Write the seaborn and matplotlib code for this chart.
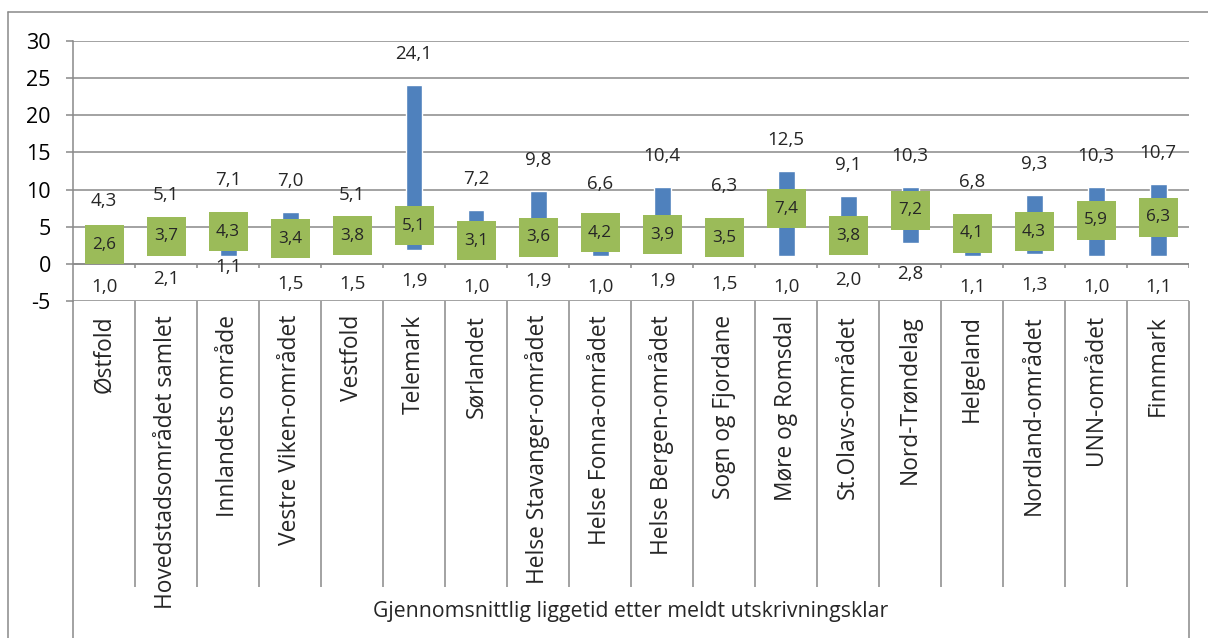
import matplotlib
matplotlib.use("Agg")
import matplotlib.pyplot as plt
from matplotlib.lines import Line2D
import matplotlib.transforms as mtransforms
import numpy as np
import pandas as pd
import seaborn as sns

# Regions and waiting time (days) after the patient is reported ready for discharge
regions = [
    "Østfold", "Hovedstadsområdet samlet", "Innlandets område", "Vestre Viken-området",
    "Vestfold", "Telemark", "Sørlandet", "Helse Stavanger-området", "Helse Fonna-området",
    "Helse Bergen-området", "Sogn og Fjordane", "Møre og Romsdal", "St.Olavs-området",
    "Nord-Trøndelag", "Helgeland", "Nordland-området", "UNN-området", "Finnmark",
]
max_days = [4.3, 5.1, 7.1, 7.0, 5.1, 24.1, 7.2, 9.8, 6.6, 10.4, 6.3, 12.5, 9.1, 10.3, 6.8, 9.3, 10.3, 10.7]
mean_days = [2.6, 3.7, 4.3, 3.4, 3.8, 5.1, 3.1, 3.6, 4.2, 3.9, 3.5, 7.4, 3.8, 7.2, 4.1, 4.3, 5.9, 6.3]
min_days = [1.0, 2.1, 1.1, 1.5, 1.5, 1.9, 1.0, 1.9, 1.0, 1.9, 1.5, 1.0, 2.0, 2.8, 1.1, 1.3, 1.0, 1.1]
y_ticks = [-5, 0, 5, 10, 15, 20, 25, 30]
axis_title = "Gjennomsnittlig liggetid etter meldt utskrivningsklar"

BLUE = "#4F81BD"
GREEN = "#9BBB59"
GRID = "#898989"

sns.set_theme(style="white")
plt.rcParams["font.family"] = ["Open Sans", "DejaVu Sans"]

W, H = 1208, 638
fig = plt.figure(figsize=(W / 100, H / 100), dpi=100)
px_l, px_r, px_t, px_b = 73, 1189, 41, 301
ax = fig.add_axes([px_l / W, 1 - px_b / H, (px_r - px_l) / W, (px_b - px_t) / H])

df = pd.DataFrame({"region": regions, "max": max_days, "mean": mean_days, "min": min_days})
df["span"] = df["max"] - df["min"]
n = len(df)

# Floating range bars: height is the span, each bar starts at the minimum
sns.barplot(data=df, x="region", y="span", color=BLUE, saturation=1,
            width=17 / 62, ax=ax, zorder=2)
for patch, lo in zip(ax.patches, df["min"]):
    patch.set_y(lo)

# Mean shown as a square marker
side_pt = 39 * 72 / 100
sns.scatterplot(data=df, x="region", y="mean", marker="s", s=side_pt ** 2,
                color=GREEN, edgecolor="none", linewidth=0, ax=ax, zorder=3)

ax.set_xlim(-0.5, n - 0.5)
ax.set_ylim(-5, 30)
ax.set_yticks(y_ticks)
ax.set_yticklabels([str(t) for t in y_ticks], fontsize=15.5)
ax.yaxis.grid(True, color=GRID, lw=1.1, zorder=0)
ax.set_axisbelow(True)
ax.tick_params(axis="y", which="major", left=True, length=5, width=1.1, color=GRID,
               direction="out", pad=11, labelcolor="black")
ax.set_xlabel("")
ax.set_ylabel("")
for side in ["top", "right", "bottom"]:
    ax.spines[side].set_visible(False)
ax.spines["left"].set_color(GRID)
ax.spines["left"].set_linewidth(1.1)

# Category axis at zero with small ticks between regions
ax.axhline(0, color=GRID, lw=1.1, zorder=1)
bounds = np.arange(n + 1) - 0.5
ax.vlines(bounds[1:], -0.55, 0, color=GRID, lw=1.1, zorder=1)

# Region names below the plot, in a ruled table
ax.set_xticks(np.arange(n))
ax.set_xticklabels(regions, rotation=90, fontsize=16.4)
ax.tick_params(axis="x", length=0, pad=10)
trans = mtransforms.blended_transform_factory(ax.transData, ax.transAxes)
table_bottom = -(587 - px_b) / (px_b - px_t)
fig_bottom = -(H - px_b) / (px_b - px_t)
ax.vlines(bounds[1:-1], table_bottom, 0, color=GRID, lw=1.1, transform=trans, clip_on=False)
ax.vlines([bounds[0], bounds[-1]], fig_bottom, 0, color=GRID, lw=1.1, transform=trans, clip_on=False)

# Value labels
off = 31 * 72 / 100
for i, row in df.iterrows():
    ax.annotate(f"{row['max']:.1f}".replace(".", ","), (i, row["max"]), xytext=(0, off),
                textcoords="offset points", ha="center", va="center", fontsize=13.5)
    low_off = 11 * 72 / 100 if row["region"] == "Innlandets område" else off
    ax.annotate(f"{row['min']:.1f}".replace(".", ","), (i, row["min"]), xytext=(0, -low_off),
                textcoords="offset points", ha="center", va="center", fontsize=13.5)
    ax.annotate(f"{row['mean']:.1f}".replace(".", ","), (i, row["mean"]), xytext=(0, 0),
                textcoords="offset points", ha="center", va="center", fontsize=12.3, zorder=4)

fig.text((px_l + px_r) / 2 / W, 1 - 612 / H, axis_title, ha="center", va="center", fontsize=15.3)

# Chart frame
fig.add_artist(Line2D([8 / W, 1.0], [1 - 12 / H, 1 - 12 / H], transform=fig.transFigure,
                      color=GRID, lw=1.1))
fig.add_artist(Line2D([8 / W, 8 / W], [1 - 12 / H, 0.0], transform=fig.transFigure,
                      color=GRID, lw=1.1))

fig.savefig("out.png", dpi=100, facecolor="white")
